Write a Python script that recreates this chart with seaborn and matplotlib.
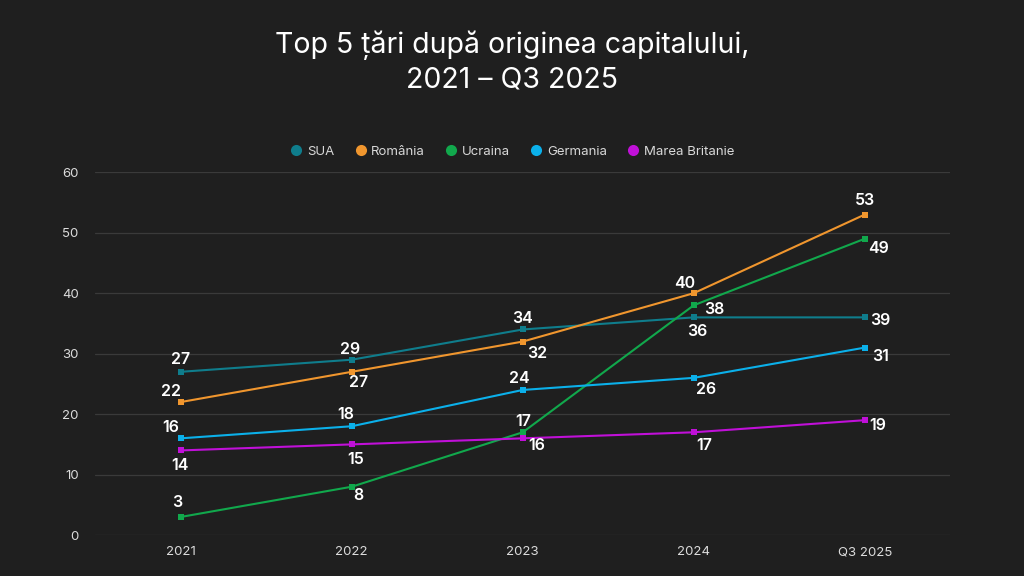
import matplotlib
matplotlib.use("Agg")
import matplotlib.pyplot as plt
import seaborn as sns
import pandas as pd
from matplotlib.lines import Line2D

categories = ["2021", "2022", "2023", "2024", "Q3 2025"]
series_names = ["SUA", "România", "Ucraina", "Germania", "Marea Britanie"]
sua = [27, 29, 34, 36, 36]
romania = [22, 27, 32, 40, 53]
ucraina = [3, 8, 17, 38, 49]
germania = [16, 18, 24, 26, 31]
marea_britanie = [14, 15, 16, 17, 19]
# data labels as printed in the chart
sua_labels = ["27", "29", "34", "36", "39"]
romania_labels = ["22", "27", "32", "40", "53"]
ucraina_labels = ["3", "8", "17", "38", "49"]
germania_labels = ["16", "18", "24", "26", "31"]
marea_britanie_labels = ["14", "15", "16", "17", "19"]

colors = ["#0f7d8c", "#f0962e", "#11a84c", "#0bb0ea", "#c010d8"]
label_offsets = [
    [(0, 12), (-2, 10), (0, 11), (3, -14), (15, -3)],
    [(-10, 11), (7, -11), (14, -12), (-9, 10), (0, 14)],
    [(-4, 14), (7, -9), (0, 11), (20, -4), (14, -10)],
    [(-10, 11), (-6, 12), (-3, 11), (12, -12), (16, -9)],
    [(-1, -15), (4, -15), (14, -7), (10, -13), (13, -5)],
]

values = [sua, romania, ucraina, germania, marea_britanie]
labels = [sua_labels, romania_labels, ucraina_labels, germania_labels, marea_britanie_labels]

rows = []
for name, vals in zip(series_names, values):
    for i, v in enumerate(vals):
        rows.append({"x": i, "cat": categories[i], "serie": name, "val": v})
df = pd.DataFrame(rows)

bg = "#1f1f1f"
sns.set_theme(style="dark")
plt.rcParams["font.family"] = ["Inter", "DejaVu Sans"]

fig = plt.figure(figsize=(10.24, 5.76), dpi=100, facecolor=bg)
ax = fig.add_axes([0.093, 0.071, 0.835, 0.630])
ax.set_facecolor(bg)

sns.lineplot(data=df, x="x", y="val", hue="serie", hue_order=series_names,
             palette=colors, marker="s", markersize=4.5, markeredgewidth=0,
             linewidth=1.5, ax=ax, legend=False)

for s, (vals, labs, offs) in enumerate(zip(values, labels, label_offsets)):
    for i, (v, lab, off) in enumerate(zip(vals, labs, offs)):
        ax.annotate(lab, (i, v), xytext=off, textcoords="offset pixels",
                    ha="center", va="center", color="white", fontsize=11.5,
                    fontweight="semibold")

ax.set_xlim(-0.5, 4.5)
ax.set_ylim(0, 60)
ax.set_xticks(range(len(categories)))
ax.set_xticklabels(categories)
ax.set_yticks(range(0, 61, 10))
ax.grid(axis="y", color="#3a3a3a", linewidth=0.9)
ax.grid(axis="x", visible=False)
for sp in ax.spines.values():
    sp.set_visible(False)
ax.tick_params(axis="both", colors="#dcdcdc", labelsize=9.5, length=0)
ax.tick_params(axis="x", pad=8)
ax.tick_params(axis="y", pad=12)
ax.set_xlabel("")
ax.set_ylabel("")

fig.text(0.5, 0.892, "Top 5 țări după originea capitalului,\n2021 – Q3 2025",
         ha="center", va="center", color="white", fontsize=20.5,
         fontweight="normal", linespacing=1.3)

handles = [Line2D([], [], marker="o", linestyle="", markersize=8,
                  markerfacecolor=c, markeredgewidth=0) for c in colors]
fig.legend(handles, series_names, loc="center", bbox_to_anchor=(0.5, 0.737),
           ncol=5, frameon=False, fontsize=9.5, labelcolor="#d8d8d8",
           handletextpad=0.3, columnspacing=1.5, handlelength=1.0)

fig.savefig("out.png", dpi=100, facecolor=bg)
